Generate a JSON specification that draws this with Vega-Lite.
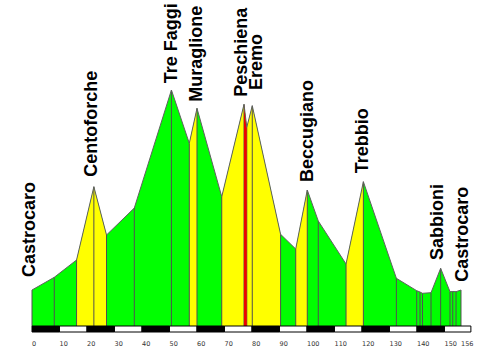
{
  "$schema": "https://vega.github.io/schema/vega-lite/v6.json",
  "width": 439,
  "height": 352,
  "autosize": {"type": "none"},
  "padding": {"left": 32, "right": 9, "top": 0, "bottom": 0},
  "background": "white",
  "config": {"view": {"stroke": null}},
  "datasets": {
    "pts": [
      {"km": 0, "alt": 36}, {"km": 8.1, "alt": 48.7}, {"km": 16.2, "alt": 66}, {"km": 22.5, "alt": 139.3},
      {"km": 27.1, "alt": 91}, {"km": 37.2, "alt": 118}, {"km": 50.7, "alt": 236}, {"km": 57.2, "alt": 182.7},
      {"km": 60.0, "alt": 217.7}, {"km": 69.0, "alt": 129.3}, {"km": 77.1, "alt": 221.7}, {"km": 78.1, "alt": 198.7},
      {"km": 80.1, "alt": 220.3}, {"km": 90.4, "alt": 91.7}, {"km": 95.9, "alt": 77}, {"km": 100.1, "alt": 136},
      {"km": 104.1, "alt": 105}, {"km": 114.2, "alt": 62}, {"km": 120.5, "alt": 144.3}, {"km": 132.5, "alt": 47.7},
      {"km": 139.9, "alt": 35.3}, {"km": 141.1, "alt": 34}, {"km": 142.0, "alt": 32.7}, {"km": 145.1, "alt": 33.3},
      {"km": 148.6, "alt": 57.7}, {"km": 152.0, "alt": 34.3}, {"km": 153.0, "alt": 34.5}, {"km": 154.2, "alt": 34.3},
      {"km": 156.0, "alt": 36}
    ],
    "climbs": [
      {"run": 1, "km": 16.2, "alt": 66}, {"run": 1, "km": 22.5, "alt": 139.3}, {"run": 1, "km": 27.1, "alt": 91},
      {"run": 2, "km": 57.2, "alt": 182.7}, {"run": 2, "km": 60.0, "alt": 217.7},
      {"run": 3, "km": 69.0, "alt": 129.3}, {"run": 3, "km": 77.1, "alt": 221.7}, {"run": 3, "km": 78.1, "alt": 198.7}, {"run": 3, "km": 80.1, "alt": 220.3}, {"run": 3, "km": 90.4, "alt": 91.7},
      {"run": 5, "km": 95.9, "alt": 77}, {"run": 5, "km": 100.1, "alt": 136},
      {"run": 6, "km": 114.2, "alt": 62}, {"run": 6, "km": 120.5, "alt": 144.3}
    ],
    "mark": [
      {"km": 77.1, "alt": 221.7}, {"km": 78.1, "alt": 198.7}
    ],
    "bar": [
      {"from": 0, "to": 10, "shade": "k"}, {"from": 10, "to": 20, "shade": "w"},
      {"from": 20, "to": 30, "shade": "k"}, {"from": 30, "to": 40, "shade": "w"},
      {"from": 40, "to": 50, "shade": "k"}, {"from": 50, "to": 60, "shade": "w"},
      {"from": 60, "to": 70, "shade": "k"}, {"from": 70, "to": 80, "shade": "w"},
      {"from": 80, "to": 90, "shade": "k"}, {"from": 90, "to": 100, "shade": "w"},
      {"from": 100, "to": 110, "shade": "k"}, {"from": 110, "to": 120, "shade": "w"},
      {"from": 120, "to": 130, "shade": "k"}, {"from": 130, "to": 140, "shade": "w"},
      {"from": 140, "to": 150, "shade": "k"}, {"from": 150, "to": 159.6, "shade": "w"}
    ],
    "ticks": [
      {"km": 0}, {"km": 10}, {"km": 20}, {"km": 30}, {"km": 40}, {"km": 50}, {"km": 60}, {"km": 70},
      {"km": 80}, {"km": 90}, {"km": 100}, {"km": 110}, {"km": 120}, {"km": 130}, {"km": 140}, {"km": 150}, {"km": 156}
    ],
    "labels": [
      {"name": "Castrocaro", "km": 1.09, "alt": 49},
      {"name": "Centoforche", "km": 23.53, "alt": 149.3},
      {"name": "Tre Faggi", "km": 52.62, "alt": 242.7},
      {"name": "Muraglione", "km": 61.71, "alt": 224.3},
      {"name": "Peschiena", "km": 78.07, "alt": 229.3},
      {"name": "Eremo", "km": 83.53, "alt": 236},
      {"name": "Beccugiano", "km": 102.29, "alt": 144},
      {"name": "Trebbio", "km": 122.29, "alt": 152.7},
      {"name": "Sabbioni", "km": 149.56, "alt": 66},
      {"name": "Castrocaro", "km": 158.65, "alt": 44.3}
    ]
  },
  "layer": [
    {
      "data": {"name": "pts"},
      "mark": {"type": "area", "color": "#00ff00", "interpolate": "linear"},
      "encoding": {
        "x": {"field": "km", "type": "quantitative",
          "scale": {"domain": [0, 159.64], "nice": false, "zero": false},
          "axis": null},
        "y": {"field": "alt", "type": "quantitative",
          "scale": {"domain": [-26, 326], "nice": false, "zero": false},
          "axis": null},
        "y2": {"datum": 0}
      }
    },
    {
      "data": {"name": "climbs"},
      "mark": {"type": "area", "color": "#ffff00", "interpolate": "linear"},
      "encoding": {
        "x": {"field": "km", "type": "quantitative"},
        "y": {"field": "alt", "type": "quantitative"},
        "y2": {"datum": 0},
        "detail": {"field": "run"}
      }
    },
    {
      "data": {"name": "pts"},
      "mark": {"type": "rule", "color": "#505050", "strokeWidth": 1},
      "encoding": {
        "x": {"field": "km", "type": "quantitative"},
        "y": {"field": "alt", "type": "quantitative"},
        "y2": {"datum": 0}
      }
    },
    {
      "data": {"name": "mark"},
      "mark": {"type": "area", "color": "#ee0000", "interpolate": "linear"},
      "encoding": {
        "x": {"field": "km", "type": "quantitative"},
        "y": {"field": "alt", "type": "quantitative"},
        "y2": {"datum": 0}
      }
    },
    {
      "data": {"name": "pts"},
      "mark": {"type": "line", "color": "#606060", "strokeWidth": 1, "interpolate": "linear"},
      "encoding": {
        "x": {"field": "km", "type": "quantitative"},
        "y": {"field": "alt", "type": "quantitative"}
      }
    },
    {
      "data": {"name": "bar"},
      "mark": {"type": "rect", "stroke": "#000", "strokeWidth": 1},
      "encoding": {
        "x": {"field": "from", "type": "quantitative"},
        "x2": {"field": "to"},
        "y": {"datum": 0},
        "y2": {"datum": -6},
        "fill": {"field": "shade", "type": "nominal",
          "scale": {"domain": ["k", "w"], "range": ["#000000", "#ffffff"]}, "legend": null}
      }
    },
    {
      "data": {"name": "ticks"},
      "mark": {"type": "text", "align": "left", "baseline": "middle",
        "font": "DejaVu Sans", "fontSize": 6.5, "color": "#333"},
      "encoding": {
        "x": {"field": "km", "type": "quantitative"},
        "y": {"datum": -17.5},
        "text": {"field": "km", "type": "quantitative"}
      }
    },
    {
      "data": {"name": "labels"},
      "mark": {"type": "text", "angle": -90, "align": "left", "baseline": "alphabetic",
        "font": "Liberation Sans", "fontWeight": "bold", "fontSize": 18, "color": "#000"},
      "encoding": {
        "x": {"field": "km", "type": "quantitative"},
        "y": {"field": "alt", "type": "quantitative"},
        "text": {"field": "name"}
      }
    }
  ]
}
